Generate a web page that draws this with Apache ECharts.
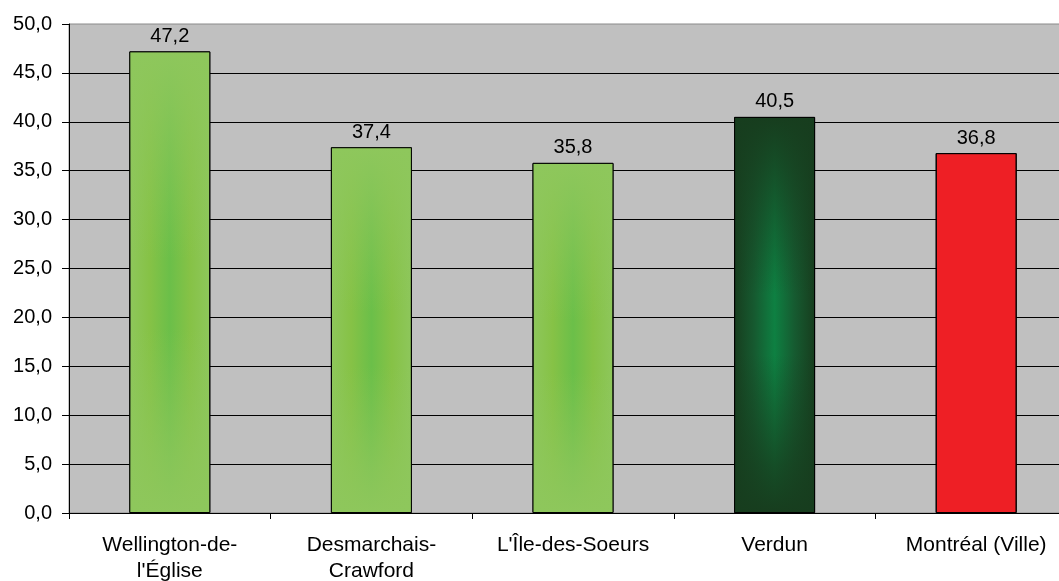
<!DOCTYPE html>
<html>
<head>
<meta charset="utf-8">
<script src="https://cdn.jsdelivr.net/npm/echarts@6/dist/echarts.min.js"></script>
<style>
  html, body { margin: 0; padding: 0; background: #fff; overflow: hidden; }
  /* the plot area runs a little past the right edge of the window */
  #chart { width: 1078px; height: 581px; }
</style>
</head>
<body>
<div id="chart"></div>
<script>
// Neighbourhood names (category axis)
const categories = [
  "Wellington-de-\nl'Église",
  "Desmarchais-\nCrawford",
  "L'Île-des-Soeurs",
  "Verdun",
  "Montréal (Ville)"
];
// Values per neighbourhood
const values = [47.2, 37.4, 35.8, 40.5, 36.8];
// Fill style per bar: 'light' green, 'dark' green, 'red'
const barKinds = ['light', 'light', 'light', 'dark', 'red'];

const FONT = '"Liberation Sans", Arial, sans-serif';

// edge / centre colours of the shaded bars
const SHADES = {
  light: { edge: [142, 199, 92], mid: [134, 194, 70], center: [107, 191, 73] },
  dark:  { edge: [23, 61, 30],   mid: [22, 90, 48],   center: [14, 128, 66] }
};

const rgba = (c, a) => `rgba(${c[0]},${c[1]},${c[2]},${a})`;

// horizontal shading: edges -> centre -> edges
function baseFill(kind) {
  const s = SHADES[kind];
  if (!s) return '#EE1F25';
  return new echarts.graphic.LinearGradient(0, 0, 1, 0, [
    { offset: 0, color: rgba(s.edge, 1) },
    { offset: 0.25, color: rgba(s.mid, 1) },
    { offset: 0.5, color: rgba(s.center, 1) },
    { offset: 0.75, color: rgba(s.mid, 1) },
    { offset: 1, color: rgba(s.edge, 1) }
  ]);
}

// vertical veil that brings the edge colour back at the top and bottom
function veilFill(kind) {
  const s = SHADES[kind];
  if (!s) return 'rgba(0,0,0,0)';
  return new echarts.graphic.LinearGradient(0, 0, 0, 1, [
    { offset: 0, color: rgba(s.edge, 1) },
    { offset: 0.12, color: rgba(s.edge, 0.75) },
    { offset: 0.45, color: rgba(s.edge, 0) },
    { offset: 0.6, color: rgba(s.edge, 0) },
    { offset: 0.88, color: rgba(s.edge, 0.75) },
    { offset: 1, color: rgba(s.edge, 1) }
  ]);
}

const valueText = v => v.toFixed(1).replace('.', ',');

const chart = echarts.init(document.getElementById('chart'), null, { renderer: 'canvas' });

chart.setOption({
  animation: false,
  backgroundColor: '#ffffff',
  grid: {
    left: 69, width: 1008, top: 24, height: 489,
    outerBoundsMode: 'none',
    show: true, backgroundColor: '#C0C0C0', borderColor: '#8a8a8a', borderWidth: 1
  },
  xAxis: {
    type: 'category',
    data: categories,
    axisLine: { lineStyle: { color: '#000', width: 1 } },
    axisTick: { show: true, length: 6, alignWithLabel: false, lineStyle: { color: '#000' } },
    axisLabel: {
      color: '#000', fontFamily: FONT, fontSize: 21, lineHeight: 26,
      margin: 19, interval: 0
    }
  },
  yAxis: {
    type: 'value',
    min: 0, max: 50, interval: 5,
    axisLine: { show: true, lineStyle: { color: '#000', width: 1 } },
    axisTick: { show: true, length: 7, lineStyle: { color: '#000' } },
    splitLine: { show: true, showMaxLine: false, lineStyle: { color: '#000', width: 1 } },
    axisLabel: {
      color: '#000', fontFamily: FONT, fontSize: 20, margin: 17,
      formatter: v => valueText(v)
    }
  },
  series: [
    {
      type: 'bar',
      barWidth: 81,
      data: values.map((v, i) => ({
        value: v,
        itemStyle: { color: baseFill(barKinds[i]), borderColor: '#000', borderWidth: 1 }
      })),
      label: {
        show: true, position: 'top', distance: 5,
        color: '#000', fontFamily: FONT, fontSize: 20,
        formatter: p => valueText(p.value)
      }
    },
    {
      type: 'bar',
      barWidth: 81,
      barGap: '-100%',
      silent: true,
      data: values.map((v, i) => ({
        value: v,
        itemStyle: { color: veilFill(barKinds[i]), borderColor: '#000', borderWidth: 1 }
      }))
    }
  ]
});
</script>
</body>
</html>
